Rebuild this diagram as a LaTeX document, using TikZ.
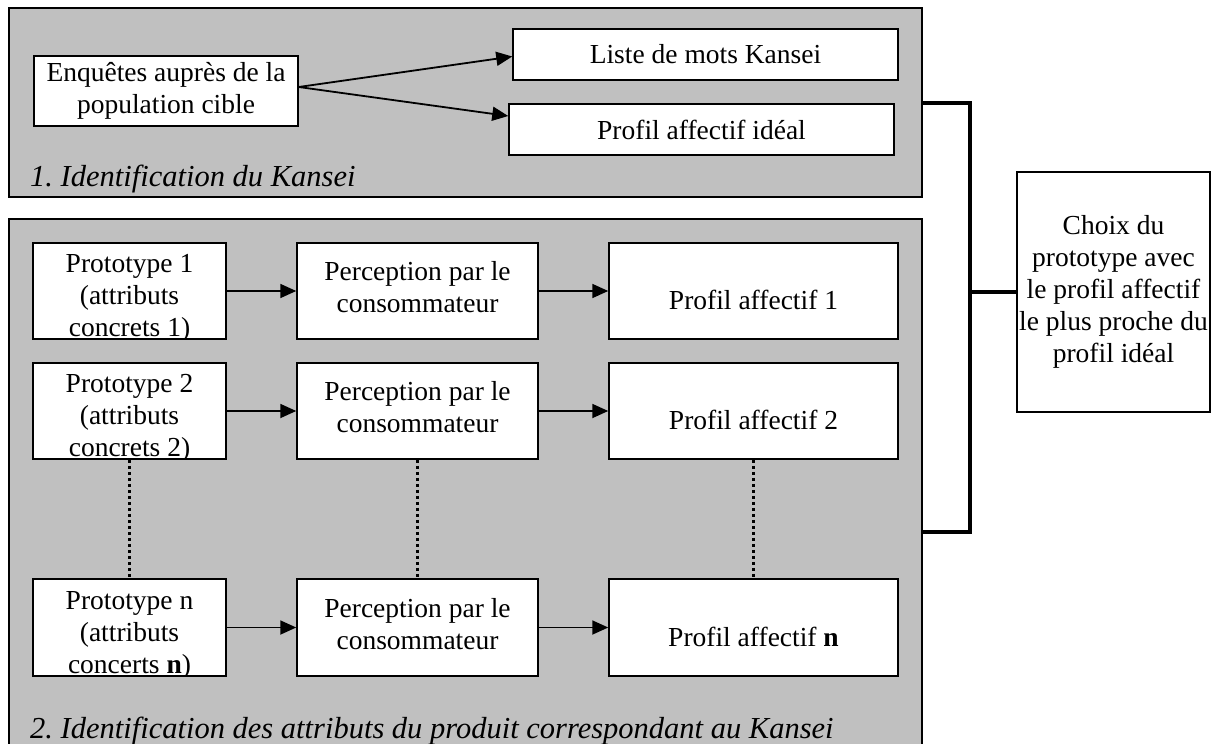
\documentclass[tikz,border=0pt]{standalone}
\usepackage{fontspec}
\setmainfont{Liberation Serif}
\usetikzlibrary{arrows.meta}
\definecolor{panelgray}{RGB}{192,192,192}
\begin{document}
\begin{tikzpicture}[x=1pt,y=-1pt,
  panel/.style={draw=black,line width=1.5pt,fill=panelgray,inner sep=0pt},
  box/.style={draw=black,line width=1.5pt,fill=white,inner sep=0pt,align=center,
    font=\fontsize{27.5}{32}\selectfont},
  boxtext/.style={inner sep=0pt,align=center,font=\fontsize{27.5}{32}\selectfont},
  flow/.style={line width=1.8pt,-{Triangle[length=16pt,width=14pt]}},
  gap/.style={line width=3pt,dash pattern=on 3pt off 3pt},
  bracket/.style={line width=4pt},
  heading/.style={anchor=base west,inner sep=0pt,font=\fontsize{30.5}{36}\selectfont\itshape}
]
\useasboundingbox (0,0) rectangle (1216,744);

% ---- panel 1: Kansei identification ----
\node[panel,minimum width=913pt,minimum height=189pt] (kansei) at (465.5,102.5) {};
\node[heading] (kanseititle) at (30,186) {1.\ Identification du Kansei};

\node[box,minimum width=264pt,minimum height=70pt] (enq) at (166,91)
  {Enquêtes auprès de la\\population cible};
\node[box,minimum width=385pt,minimum height=51pt] (liste) at (705.5,54.5) {Liste de mots Kansei};
\node[box,minimum width=385pt,minimum height=51pt] (ideal) at (701.5,129.5) {Profil affectif idéal};

\coordinate (enqout) at ([yshift=4pt]enq.east);
\draw[flow] (enqout) -- ([yshift=-2pt]liste.west);
\draw[flow] (enqout) -- ([yshift=13.5pt]ideal.west);

% ---- panel 2: product attributes ----
\node[panel,minimum width=913pt,minimum height=531pt] (attr) at (465.5,484.5) {};
\node[heading] (attrtitle) at (30,738)
  {2.\ Identification des attributs du produit correspondant au Kansei};

% prototype boxes: the third line is cut by the lower border
\node[box,minimum width=193pt,minimum height=96pt,
  path picture={\node[boxtext] (p1t) at ([yshift=-7.5pt]path picture bounding box.center)
    {Prototype 1\\(attributs\\concrets 1)};}] (p1) at (129.5,291) {};
\node[box,minimum width=193pt,minimum height=96pt,
  path picture={\node[boxtext] (p2t) at ([yshift=-7.5pt]path picture bounding box.center)
    {Prototype 2\\(attributs\\concrets 2)};}] (p2) at (129.5,411) {};
\node[box,minimum width=193pt,minimum height=97pt,
  path picture={\node[boxtext] (pnt) at ([yshift=-7.5pt]path picture bounding box.center)
    {Prototype n\\(attributs\\concerts \textbf{n})};}] (pn) at (129.5,627.5) {};

\node[box,minimum width=241pt,minimum height=96pt,text depth=8pt] (c1) at (417.5,291)
  {Perception par le\\consommateur};
\node[box,minimum width=241pt,minimum height=96pt,text depth=8pt] (c2) at (417.5,411)
  {Perception par le\\consommateur};
\node[box,minimum width=241pt,minimum height=97pt,text depth=8pt] (cn) at (417.5,627.5)
  {Perception par le\\consommateur};

\node[box,minimum width=289pt,minimum height=96pt] (a1) at (753.5,291) {};
\node[box,minimum width=289pt,minimum height=96pt] (a2) at (753.5,411) {};
\node[box,minimum width=289pt,minimum height=97pt] (an) at (753.5,627.5) {};
\node[boxtext] (a1t) at ([yshift=-9pt]a1.center) {Profil affectif 1};
\node[boxtext] (a2t) at ([yshift=-9pt]a2.center) {Profil affectif 2};
\node[boxtext] (ant) at ([yshift=-9pt]an.center) {Profil affectif \textbf{n}};

\foreach \r in {1,2,n} {
  \draw[flow] (p\r.east) -- (c\r.west);
  \draw[flow] (c\r.east) -- (a\r.west);
}

\draw[gap] (p2.south) -- (pn.north);
\draw[gap] (c2.south) -- (cn.north);
\draw[gap] (a2.south) -- (an.north);

% ---- final choice ----
\node[box,minimum width=193pt,minimum height=240pt] (choix) at (1113.5,292)
  {Choix du\\prototype avec\\le profil affectif\\le plus proche du\\profil idéal};

\coordinate (spine) at (970,0);
\coordinate (attrjoin) at (922,532);
\draw[bracket] (kansei.east) -| (spine |- attrjoin) -- (attrjoin);
\draw[bracket] (spine |- choix.west) -- (choix.west);
\end{tikzpicture}
\end{document}
